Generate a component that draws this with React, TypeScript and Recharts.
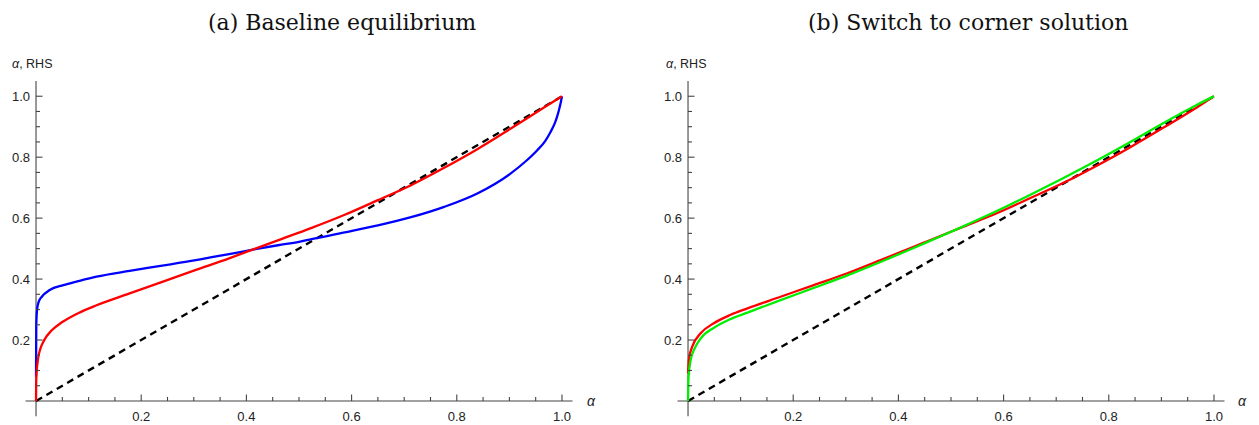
import { Line, LineChart, ReferenceLine, XAxis, YAxis } from 'recharts';

// (a) baseline equilibrium
const blueAlpha = [0, 0.0005, 0.002, 0.005, 0.011, 0.026, 0.052, 0.08, 0.115, 0.178, 0.24, 0.304, 0.367, 0.417, 0.46, 0.5, 0.524, 0.587, 0.65, 0.713, 0.776, 0.839, 0.902, 0.93, 0.953, 0.968, 0.978, 0.986, 0.991, 0.995, 0.998, 1.0];
const blueRhs = [0.08, 0.25, 0.3, 0.325, 0.342, 0.364, 0.38, 0.393, 0.408, 0.427, 0.444, 0.462, 0.482, 0.498, 0.511, 0.522, 0.531, 0.553, 0.576, 0.603, 0.637, 0.681, 0.746, 0.785, 0.823, 0.853, 0.882, 0.91, 0.935, 0.96, 0.982, 1.0];
const redAAlpha = [0, 0.0003, 0.001, 0.004, 0.008, 0.015, 0.03, 0.05, 0.08, 0.115, 0.178, 0.24, 0.304, 0.367, 0.417, 0.461, 0.524, 0.587, 0.65, 0.713, 0.776, 0.839, 0.902, 0.965, 1.0];
const redARhs = [0, 0.06, 0.09, 0.14, 0.17, 0.198, 0.232, 0.259, 0.288, 0.314, 0.353, 0.391, 0.43, 0.468, 0.5, 0.528, 0.568, 0.611, 0.659, 0.708, 0.765, 0.826, 0.893, 0.962, 1.0];

// (b) switch to corner solution
const redBAlpha = [0, 0.002, 0.008, 0.024, 0.049, 0.08, 0.113, 0.176, 0.239, 0.303, 0.366, 0.429, 0.461, 0.518, 0.588, 0.651, 0.714, 0.778, 0.841, 0.905, 0.968, 1.0];
const redBRhs = [0.09, 0.14, 0.178, 0.222, 0.255, 0.282, 0.304, 0.342, 0.38, 0.419, 0.462, 0.506, 0.528, 0.568, 0.617, 0.666, 0.716, 0.773, 0.833, 0.898, 0.964, 1.0];
const greenAlpha = [0, 0.001, 0.005, 0.012, 0.024, 0.049, 0.08, 0.113, 0.176, 0.239, 0.303, 0.366, 0.429, 0.461, 0.518, 0.588, 0.651, 0.714, 0.778, 0.841, 0.905, 0.968, 1.0];
const greenRhs = [0, 0.08, 0.134, 0.17, 0.205, 0.24, 0.268, 0.29, 0.331, 0.371, 0.412, 0.456, 0.502, 0.526, 0.569, 0.624, 0.677, 0.732, 0.79, 0.85, 0.913, 0.972, 1.0];

// 45 degree line
const diagAlpha = [0, 1];
const diagRhs = [0, 1];

const axisTicks = [0.05, 0.1, 0.15, 0.2, 0.25, 0.3, 0.35, 0.4, 0.45, 0.5, 0.55, 0.6, 0.65, 0.7, 0.75, 0.8, 0.85, 0.9, 0.95, 1.0];
const majorTicks = [0.2, 0.4, 0.6, 0.8, 1.0];
const tickLabels = ['0.2', '0.4', '0.6', '0.8', '1.0'];

const W = 610;
const H = 445;
const AXIS_SIZE = 20;
const PLOT_LEFT = 25.5;
const M_TOP = 81;
const PLOT_W = 547;
const PLOT_H = 335.2;
const X_DOMAIN = [-0.02, 1.02];
const Y_DOMAIN = [-0.05, 1.05];
const AXIS_X = PLOT_LEFT + (PLOT_W * 0.02) / 1.04;
const AXIS_Y = M_TOP + (PLOT_H * 1.05) / 1.1;
const AXIS_COLOR = '#444';
const LABEL_FONT = '"Liberation Sans", Arial, sans-serif';

const toPoints = (xs: number[], ys: number[]) => xs.map((a, i) => ({ a, v: ys[i] }));

function XTick(props: any) {
  const { x, payload } = props;
  const idx = majorTicks.indexOf(payload.value);
  return (
    <g>
      <line x1={x} x2={x} y1={AXIS_Y} y2={AXIS_Y - (idx >= 0 ? 6.5 : 4)} stroke={AXIS_COLOR} strokeWidth={1.1} />
      {idx >= 0 && (
        <text x={x} y={AXIS_Y + 20} textAnchor="middle" fontSize={13} fontFamily={LABEL_FONT} fill="#222">
          {tickLabels[idx]}
        </text>
      )}
    </g>
  );
}

function YTick(props: any) {
  const { y, payload } = props;
  const idx = majorTicks.indexOf(payload.value);
  return (
    <g>
      <line x1={AXIS_X} x2={AXIS_X + (idx >= 0 ? 6.5 : 4)} y1={y} y2={y} stroke={AXIS_COLOR} strokeWidth={1.1} />
      {idx >= 0 && (
        <text x={AXIS_X - 6} y={y + 4.5} textAnchor="end" fontSize={13} fontFamily={LABEL_FONT} fill="#222">
          {tickLabels[idx]}
        </text>
      )}
    </g>
  );
}

interface Series {
  name: string;
  alpha: number[];
  rhs: number[];
  color: string;
  dashed?: boolean;
}

function Panel({ series }: { series: Series[] }) {
  return (
    <LineChart
      width={W}
      height={H}
      margin={{
        top: M_TOP,
        left: PLOT_LEFT - AXIS_SIZE,
        right: W - PLOT_LEFT - PLOT_W,
        bottom: H - M_TOP - PLOT_H - AXIS_SIZE,
      }}
    >
      <XAxis
        dataKey="a"
        type="number"
        domain={X_DOMAIN}
        allowDataOverflow
        ticks={axisTicks}
        interval={0}
        height={AXIS_SIZE}
        axisLine={false}
        tickLine={false}
        tick={XTick}
      />
      <YAxis
        type="number"
        domain={Y_DOMAIN}
        allowDataOverflow
        ticks={axisTicks}
        interval={0}
        width={AXIS_SIZE}
        axisLine={false}
        tickLine={false}
        tick={YTick}
      />
      <ReferenceLine x={0} stroke={AXIS_COLOR} strokeWidth={1.1} />
      <ReferenceLine y={0} stroke={AXIS_COLOR} strokeWidth={1.1} />
      {series.map((s) => (
        <Line
          key={s.name}
          data={toPoints(s.alpha, s.rhs)}
          dataKey="v"
          type={s.dashed ? 'linear' : 'monotone'}
          stroke={s.color}
          strokeWidth={s.dashed ? 2.4 : 2.3}
          strokeDasharray={s.dashed ? '7 5' : undefined}
          dot={false}
          isAnimationActive={false}
        />
      ))}
    </LineChart>
  );
}

const panelA: Series[] = [
  { name: 'diag', alpha: diagAlpha, rhs: diagRhs, color: '#000', dashed: true },
  { name: 'blue', alpha: blueAlpha, rhs: blueRhs, color: '#0000ff' },
  { name: 'red', alpha: redAAlpha, rhs: redARhs, color: '#ff0000' },
];

const panelB: Series[] = [
  { name: 'diag', alpha: diagAlpha, rhs: diagRhs, color: '#000', dashed: true },
  { name: 'red', alpha: redBAlpha, rhs: redBRhs, color: '#ff0000' },
  { name: 'green', alpha: greenAlpha, rhs: greenRhs, color: '#00ee00' },
];

export default function App() {
  const titleStyle = { fontFamily: '"DejaVu Serif", serif', fontSize: 22, fill: '#111' };
  const labelStyle = { fontFamily: LABEL_FONT, fontSize: 12.5, fill: '#222' };
  return (
    <div style={{ position: 'absolute', left: 0, top: 0, width: 1259, height: 425, overflow: 'hidden', background: '#fff' }}>
      <div style={{ position: 'absolute', left: 0, top: 0 }}>
        <Panel series={panelA} />
      </div>
      <div style={{ position: 'absolute', left: 651.5, top: 0 }}>
        <Panel series={panelB} />
      </div>
      <svg width={1259} height={425} style={{ position: 'absolute', left: 0, top: 0, pointerEvents: 'none' }}>
        <text x={208} y={30} style={titleStyle}>(a) Baseline equilibrium</text>
        <text x={808} y={30} style={titleStyle}>(b) Switch to corner solution</text>
        <text x={12} y={68} style={labelStyle}>
          <tspan fontStyle="italic">α</tspan>, RHS
        </text>
        <text x={666} y={68} style={labelStyle}>
          <tspan fontStyle="italic">α</tspan>, RHS
        </text>
        <text x={587} y={406} style={{ ...labelStyle, fontSize: 14, fontStyle: 'italic' }}>α</text>
        <text x={1238} y={406} style={{ ...labelStyle, fontSize: 14, fontStyle: 'italic' }}>α</text>
      </svg>
    </div>
  );
}
